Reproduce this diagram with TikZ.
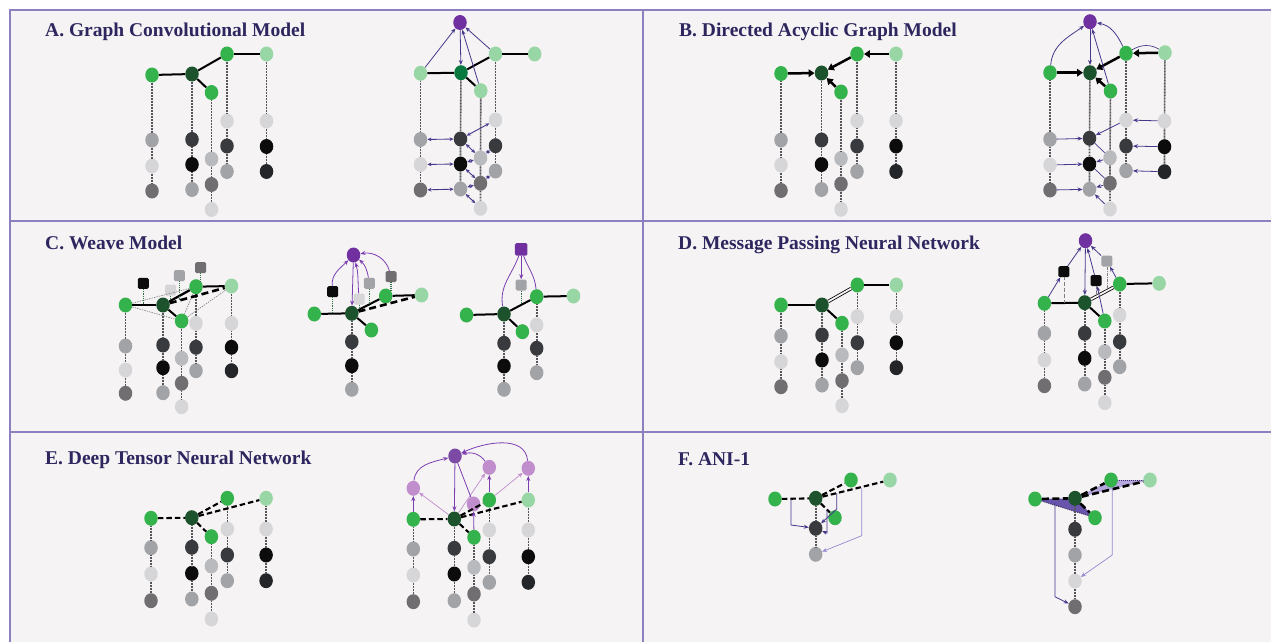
\documentclass[tikz,border=0pt]{standalone}
\usepackage{fontspec}
\setmainfont{Liberation Serif}
\usetikzlibrary{shapes.geometric,arrows.meta,calc}
\definecolor{bgc}{RGB}{245,243,244}
\definecolor{framec}{RGB}{140,128,192}
\definecolor{titlec}{RGB}{45,38,95}
\definecolor{gr}{RGB}{52,178,76}
\definecolor{dgr}{RGB}{28,82,44}
\definecolor{lgr}{RGB}{152,214,166}
\definecolor{tgr}{RGB}{8,122,64}
\definecolor{pur}{RGB}{112,48,160}
\definecolor{purE}{RGB}{124,74,164}
\definecolor{pnk}{RGB}{192,142,204}
\definecolor{arrp}{RGB}{72,56,140}
\definecolor{arrl}{RGB}{152,136,208}
\definecolor{arrc}{RGB}{125,62,178}
\definecolor{cL}{RGB}{214,214,216}
\definecolor{cLG}{RGB}{184,186,189}
\definecolor{cG}{RGB}{162,163,166}
\definecolor{cDG}{RGB}{112,110,113}
\definecolor{cD}{RGB}{56,58,61}
\definecolor{cK}{RGB}{12,12,12}
\definecolor{cVD}{RGB}{36,37,41}
\definecolor{colc}{RGB}{85,85,90}
\definecolor{sqc}{RGB}{50,110,70}
\definecolor{tridk}{RGB}{104,84,170}
\definecolor{trilt}{RGB}{182,168,222}
\tikzset{
 atom/.style={ellipse,draw=none,fill=#1,inner sep=0pt,minimum width=13.5pt,minimum height=15pt},
 sqn/.style={rectangle,rounded corners=1.5pt,draw=none,fill=#1,inner sep=0pt,minimum size=11pt},
 bond/.style={line width=2pt,draw=black},
 dbond/.style={line width=0.8pt,draw=black,double=bgc,double distance=1.8pt},
 dashbond/.style={line width=2.1pt,draw=black,dash pattern=on 5.5pt off 3pt},
 wdash/.style={line width=2.6pt,draw=black,dash pattern=on 7pt off 4pt},
 col/.style={line width=1.6pt,draw=colc,dash pattern=on 0.9pt off 0.6pt},
 thindot/.style={line width=0.6pt,draw=gray,dash pattern=on 1.5pt off 1pt},
 sqline/.style={line width=1.3pt,draw=sqc,dash pattern=on 1pt off 0.8pt},
 dashdot/.style={line width=0.5pt,draw=gray,dash pattern=on 3pt off 1.2pt on 0.6pt off 1.2pt},
 tedge/.style={line width=1pt,draw=tridk!60!black,dash pattern=on 1pt off 1pt},
 parr/.style={line width=0.8pt,draw=arrp,-{Stealth[length=5pt,width=4pt]}},
 larr/.style={line width=0.7pt,draw=arrl,-{Stealth[length=5pt,width=4pt]}},
 carr/.style={line width=0.8pt,draw=arrc,-{Stealth[length=5pt,width=4pt]}},
 parrb/.style={line width=0.9pt,draw=arrp,{Stealth[length=4pt,width=3.6pt]}-{Stealth[length=4pt,width=3.6pt]}},
 barr/.style={line width=2.5pt,draw=black,-{Triangle[length=6pt,width=7.5pt]}},
 ttl/.style={anchor=base west,text=titlec,font=\fontsize{19.5}{22}\selectfont\bfseries,inner sep=0pt},
}
\begin{document}
\begin{tikzpicture}[x=1pt,y=-1pt]
\useasboundingbox (0,0) rectangle (1271,642);
\fill[white] (0,0) rectangle (1271,642);
\fill[bgc] (10,10) rectangle (1271,642);
\draw[framec,line width=1.8pt] (10,642) -- (10,10) -- (1271,10);
\draw[framec,line width=1.8pt] (10,221) -- (1271,221);
\draw[framec,line width=1.8pt] (10,432) -- (1271,432);
\draw[framec,line width=1.8pt] (643,10) -- (643,642);

\node[ttl] (tA) at (45,37) {A. Graph Convolutional Model};
\node[ttl] (tB) at (679,37) {B. Directed Acyclic Graph Model};
\node[ttl] (tC) at (45,249) {C. Weave Model};
\node[ttl] (tD) at (678,249) {D. Message Passing Neural Network};
\node[ttl] (tE) at (45,464) {E. Deep Tensor Neural Network};
\node[ttl] (tF) at (678,465) {F. ANI-1};

% ---------- Panel A left
\foreach \n/\x/\y/\c in {a1/152/75/gr,a2/192/74/dgr,a3/227/54/gr,a4/266.5/54/lgr,a5/211.5/92.5/gr,
 a11/152/140/cG,a12/152/166/cL,a13/152/191/cDG,
 a21/192/139.5/cD,a22/192/164.5/cK,a23/192/189.5/cG,
 a51/211.5/159/cLG,a52/211.5/184.5/cDG,a53/211.5/209.5/cL,
 a31/227/121/cL,a32/227/146/cD,a33/227/171.5/cG,
 a41/266.5/121/cL,a42/266.5/146.5/cK,a43/266.5/171.5/cVD}
 \node[atom=\c] (\n) at (\x,\y) {};
\foreach \t in {a1,a2,a5,a3,a4} \draw[col] (\t)--(\t1)--(\t2)--(\t3);
\foreach \p/\q in {a1/a2,a2/a3,a2/a5,a3/a4} \draw[bond] (\p)--(\q);

% ---------- Panel A right
\node[atom=pur] (rP) at (460,22.5) {};
\foreach \n/\x/\y/\c in {r1/420.5/73.3/lgr,r2/461/72.7/tgr,r3/495.5/54/lgr,r4/534.7/54/lgr,r5/480.8/90.7/lgr,
 r11/420.5/139.5/cG,r12/420.5/164.5/cL,r13/420.5/190/cDG,
 r21/460.5/139/cD,r22/460.5/164/cK,r23/460.5/189/cG,
 r51/480.5/158/cLG,r52/480.5/183.3/cDG,r53/480.5/208.3/cL,
 r31/495.5/120/cL,r32/495.5/145.7/cD,r33/495.5/171/cG}
 \node[atom=\c] (\n) at (\x,\y) {};
\foreach \t in {r1,r2,r5,r3} \draw[col] (\t)--(\t1)--(\t2)--(\t3);
\foreach \p/\q in {r1/r2,r2/r3,r2/r5,r3/r4} \draw[bond] (\p)--(\q);
\draw[parr] (r1)--(rP);
\draw[parr] (r3)--(rP);
\draw[parr] (r5)--(rP);
\draw[parr] (rP)--(r2);
\foreach \p/\q in {r11/r21,r12/r22,r13/r23,r21/r31,r21/r51,r32/r51,r51/r22,r22/r52,r33/r52,r52/r23,r23/r53}
 \draw[parrb] (\p)--(\q);

% ---------- Panel B left
\foreach \n/\x/\y/\c in {b1/781/73.5/gr,b2/821.5/73/dgr,b3/857/54/gr,b4/896/54/lgr,b5/841/92/gr,
 b11/781/140/cG,b12/781/165/cL,b13/781/190.5/cDG,
 b21/821.5/140/cD,b22/821.5/164.5/cK,b23/821.5/189.5/cG,
 b51/841/158.5/cLG,b52/841/184/cDG,b53/841/209.3/cL,
 b31/857/120.7/cL,b32/857/146/cD,b33/857/171.5/cG,
 b41/896/120.7/cL,b42/896/146/cK,b43/896/171.5/cVD}
 \node[atom=\c] (\n) at (\x,\y) {};
\foreach \t in {b1,b2,b5,b3,b4} \draw[col] (\t)--(\t1)--(\t2)--(\t3);
\foreach \p/\q in {b1/b2,b3/b2,b5/b2,b4/b3} \draw[barr] (\p)--(\q);

% ---------- Panel B right
\node[atom=pur] (sP) at (1090,21.7) {};
\foreach \n/\x/\y/\c in {s1/1050/72.7/gr,s2/1090/72.7/dgr,s3/1126/53.3/gr,s4/1165/52.7/lgr,s5/1110.5/91/gr,
 s11/1050/139.3/cG,s12/1050/165/cL,s13/1050/190/cDG,
 s21/1089.5/138.3/cD,s22/1089.5/164/cK,s23/1089.5/189.3/cG,
 s51/1110/157.7/cLG,s52/1110/183.3/cDG,s53/1110/209/cL,
 s31/1126/120/cL,s32/1126/146/cD,s33/1126/170.7/cG,
 s41/1164.5/121/cL,s42/1164.5/146.7/cK,s43/1164.5/171.7/cVD}
 \node[atom=\c] (\n) at (\x,\y) {};
\foreach \t in {s1,s2,s5,s3,s4} \draw[col] (\t)--(\t1)--(\t2)--(\t3);
\foreach \p/\q in {s1/s2,s3/s2,s5/s2,s4/s3} \draw[barr] (\p)--(\q);
\draw[parr] (sP)--(s2);
\draw[parr] (s5)--(sP);
\draw[parr] (s1) to[out=85,in=215] (sP);
\draw[parr] (s3) to[out=115,in=-10] (sP);
\draw[line width=0.7pt,draw=arrp] (s4) to[out=150,in=30] (s3);
\foreach \p/\q in {s11/s21,s12/s22,s13/s23,s41/s31,s42/s32,s43/s33,s31/s21,s51/s22,s52/s23,s53/s23}
 \draw[parr] (\p)--(\q);
\draw[line width=0.7pt,draw=arrp] (s21)--(s51);
\draw[line width=0.7pt,draw=arrp] (s22)--(s52);

% ---------- Panel C left
\foreach \n/\x/\y/\c in {c11/125.5/346/cG,c12/125.5/370/cL,c13/125.5/393.3/cDG,
 c21/163/345/cD,c22/163/367.7/cK,c23/163/392.7/cG,
 c51/181.6/358.3/cLG,c52/181.6/383.3/cDG,c53/181.6/406.7/cL,
 c31/196/323.3/cL,c32/196/347.3/cD,c33/196/370.7/cG,
 c41/231.5/323.3/cL,c42/231.5/347.3/cK,c43/231.5/370.7/cVD}
 \node[atom=\c] (\n) at (\x,\y) {};
\foreach \n/\x/\y/\c in {c1/125.5/305/gr,c2/163/305/dgr,c3/196/286.7/gr,c4/231.5/286/lgr,c5/181.6/321/gr}
 \node[atom=\c] (\n) at (\x,\y) {};
\foreach \n/\x/\y/\c in {cqK/143.3/283.3/cK,cqL/170.7/290/cL,cqG/179.3/275.7/cG,cqD/200.7/267.7/cDG}
 \node[sqn=\c] (\n) at (\x,\y) {};
\coordinate (cbK) at (143.3,305);
\coordinate (cbL) at (170.7,300.6);
\coordinate (cbG) at (179.3,300.4);
\coordinate (cbD) at (200.7,281);
\foreach \t in {c1,c2,c5,c3,c4} \draw[col] (\t)--(\t1)--(\t2)--(\t3);
\foreach \p/\q in {c1/c3,c1/c5,c5/c3,c5/c4} \draw[thindot] (\p)--(\q);
\foreach \p/\q in {c1/c2,c2/c5,c3/c4} \draw[bond] (\p)--(\q);
\draw[bond,line width=2.3pt] (c2)--(c3);
\draw[wdash] (c2)--(c4);
\foreach \s in {K,L,G,D} \draw[sqline] (cq\s)--(cb\s);

% ---------- Panel C middle
\node[atom=pur] (mP) at (353.5,255) {};
\foreach \n/\x/\y/\c in {m1/314.3/314/gr,m2/351.8/313.3/dgr,m3/385.7/296/gr,m4/421.6/295/lgr,m5/371.4/330/gr,
 m21/351.8/341.7/cD,m22/351.8/365.7/cK,m23/351.8/389.3/cG}
 \node[atom=\c] (\n) at (\x,\y) {};
\foreach \n/\x/\y/\c in {mqK/332.7/291.7/cK,mqL/359.2/299/cL,mqG/369.4/283.3/cG,mqD/391/276.7/cDG}
 \node[sqn=\c] (\n) at (\x,\y) {};
\coordinate (mbK) at (332.7,313.6);
\coordinate (mbL) at (359.2,309.5);
\coordinate (mbG) at (369.4,308.7);
\coordinate (mbD) at (391,290);
\draw[col] (m2)--(m21)--(m22)--(m23);
\foreach \p/\q in {m1/m2,m2/m3,m2/m5,m3/m4} \draw[bond] (\p)--(\q);
\draw[wdash] (m2)--(m4);
\foreach \s in {K,L,G,D} \draw[sqline] (mq\s)--(mb\s);
\draw[carr] (mP)--(m2);
\draw[carr] (mqK) to[out=95,in=225] (mP);
\draw[carr] (mqL) to[out=95,in=-75] (mP);
\draw[carr] (mqG) to[out=100,in=-40] (mP);
\draw[carr] (mqD) to[out=105,in=10] (mP);

% ---------- Panel C right
\node[sqn=pur,minimum size=12.5pt] (nP) at (521.2,249.3) {};
\node[sqn=cG] (nqG) at (521.2,285) {};
\foreach \n/\x/\y/\c in {n1/466.5/315/gr,n2/504/314/dgr,n3/536.7/296.7/gr,n4/573.5/296/lgr,n5/522.4/331.7/gr,
 n21/504/343.3/cD,n22/504/366/cK,n23/504/389.3/cG,
 n31/536.7/325/cL,n32/536.7/348.3/cD,n33/536.7/372.7/cG}
 \node[atom=\c] (\n) at (\x,\y) {};
\coordinate (nbG) at (521.2,304.9);
\foreach \t in {n2,n3} \draw[col] (\t)--(\t1)--(\t2)--(\t3);
\foreach \p/\q in {n1/n2,n2/n3,n2/n5,n3/n4} \draw[bond] (\p)--(\q);
\draw[sqline] (nqG)--(nbG);
\draw[carr] (nP)--(nqG);
\draw[line width=0.8pt,draw=arrc] (n2) to[out=100,in=250] (nP);
\draw[line width=0.8pt,draw=arrc] (n3) to[out=95,in=-70] (nP);

% ---------- Panel D left
\foreach \n/\x/\y/\c in {d1/781/305/gr,d2/822/305/dgr,d3/857.3/285/gr,d4/896.3/285/lgr,d5/842/323.3/gr,
 d11/781/336/cG,d12/781/361.7/cL,d13/781/386.7/cDG,
 d21/822/335/cD,d22/822/360/cK,d23/822/385/cG,
 d51/842/355/cLG,d52/842/380.7/cDG,d53/842/405.7/cL,
 d31/857.3/316.7/cL,d32/857.3/342.7/cD,d33/857.3/367.7/cG,
 d41/896.3/316.7/cL,d42/896.3/342.7/cK,d43/896.3/367.7/cVD}
 \node[atom=\c] (\n) at (\x,\y) {};
\foreach \t in {d1,d2,d5,d3,d4} \draw[col] (\t)--(\t1)--(\t2)--(\t3);
\foreach \p/\q in {d1/d2,d2/d5,d3/d4} \draw[bond] (\p)--(\q);
\draw[dbond] (d2)--(d3);

% ---------- Panel D right
\node[atom=pur] (eP) at (1085.5,240.7) {};
\foreach \n/\x/\y/\c in {e1/1044.4/303.3/gr,e2/1084.7/302.7/dgr,e3/1119.7/284/gr,e4/1159.1/283.3/lgr,e5/1104.8/321/gr,
 e11/1044.4/333.3/cG,e12/1044.4/360/cL,e13/1044.4/385.7/cDG,
 e21/1084.7/333.3/cD,e22/1084.7/358.3/cK,e23/1084.7/384/cG,
 e51/1104.8/351.7/cLG,e52/1104.8/377.3/cDG,e53/1104.8/402.7/cL,
 e31/1119.7/315/cL,e32/1119.7/341.7/cD,e33/1119.7/366.7/cG}
 \node[atom=\c] (\n) at (\x,\y) {};
\foreach \n/\x/\y/\c in {eqK/1063.8/271.7/cK,eqM/1096/280.7/cK,eqG/1106.8/261/cG}
 \node[sqn=\c] (\n) at (\x,\y) {};
\coordinate (ebK) at (1063.8,303);
\coordinate (ebM) at (1096,296.6);
\coordinate (ebG) at (1106.8,290.9);
\foreach \t in {e1,e2,e5,e3} \draw[col] (\t)--(\t1)--(\t2)--(\t3);
\foreach \p/\q in {e1/e2,e2/e5,e3/e4} \draw[bond] (\p)--(\q);
\draw[dbond] (e2)--(e3);
\foreach \s in {K,M,G} \draw[dashdot] (eq\s)--(eb\s);
\foreach \p/\q in {e1/eqK,eqK/eP,eP/e2,e5/eqM,eqM/eP,e3/eqG,eqG/eP} \draw[parr] (\p)--(\q);

% ---------- Panel E left
\foreach \n/\x/\y/\c in {f1/151/518.3/gr,f2/191.8/517.7/dgr,f3/227.3/498.3/gr,f4/266.1/498.3/lgr,f5/211.4/536.7/gr,
 f11/151/547.7/cG,f12/151/574/cL,f13/151/600.7/cDG,
 f21/191.8/547.3/cD,f22/191.8/573.3/cK,f23/191.8/599/cG,
 f51/211.4/566/cLG,f52/211.4/593.3/cDG,f53/211.4/619/cL,
 f31/227.3/529/cL,f32/227.3/555/cD,f33/227.3/580.7/cG,
 f41/266.1/529/cL,f42/266.1/555/cK,f43/266.1/580.7/cVD}
 \node[atom=\c] (\n) at (\x,\y) {};
\foreach \t in {f1,f2,f5,f3,f4} \draw[col] (\t)--(\t1)--(\t2)--(\t3);
\foreach \p/\q in {f1/f2,f2/f3,f2/f4,f2/f5} \draw[dashbond] (\p)--(\q);

% ---------- Panel E right
\node[atom=purE] (gP) at (455,456) {};
\foreach \n/\x/\y/\c in {q1/413.3/488.3/pnk,q3/489.3/467.3/pnk,q4/528.3/468.3/pnk,q5/473.5/504/pnk,
 g1/413.3/519.3/gr,g2/454.3/519/dgr,g3/489.3/500/gr,g4/528.3/500/lgr,g5/474/537.3/gr,
 g11/413.3/549/cG,g12/413.3/575/cL,g13/413.3/601.7/cDG,
 g21/454.3/548.3/cD,g22/454.3/574/cK,g23/454.3/600.7/cG,
 g51/474/567.3/cLG,g52/474/594/cDG,g53/474/620/cL,
 g31/489.3/530/cL,g32/489.3/556.7/cD,g33/489.3/582.3/cG,
 g41/528.3/530/cL,g42/528.3/556.7/cK,g43/528.3/582.3/cVD}
 \node[atom=\c] (\n) at (\x,\y) {};
\foreach \t in {g1,g2,g5,g3,g4} \draw[col] (\t)--(\t1)--(\t2)--(\t3);
\foreach \p/\q in {g1/g2,g2/g3,g2/g4,g2/g5} \draw[dashbond] (\p)--(\q);
\foreach \p/\q in {g1/q1,g3/q3,g4/q4,g5/q5} \draw[carr] (\p)--(\q);
\foreach \p/\q in {g2/q1,g2/q3,g3/q4} \draw[larr,draw=pnk] (\p)--(\q);
\draw[carr] (gP)--(g2);
\draw[carr] (q1) to[out=85,in=195] (gP);
\draw[carr] (q3) to[out=125,in=15] (gP);
\draw[carr] (q4) to[out=95,in=25] (gP);
\draw[line width=0.8pt,draw=arrc] (q5)--(gP);

% ---------- Panel F left
\foreach \n/\x/\y/\c in {h1/775/499/gr,h2/815.7/498.3/dgr,h3/851/480/gr,h4/890/480/lgr,h5/835/517.7/gr,
 h21/815.7/528.3/cD,h22/815.7/554.3/cG}
 \node[atom=\c] (\n) at (\x,\y) {};
\draw[col] (h2)--(h21)--(h22);
\foreach \p/\q in {h1/h2,h2/h3,h2/h4,h2/h5} \draw[dashbond] (\p)--(\q);
\coordinate (hA0) at (790.9,499);
\coordinate (hA1) at (790.9,525);
\coordinate (hB0) at (836.7,493);
\coordinate (hB1) at (836.7,509);
\coordinate (hC0) at (827,509.7);
\coordinate (hC1) at (827,533);
\coordinate (hD0) at (861.7,487.5);
\coordinate (hD1) at (861.7,535.7);
\draw[parr] (hA0)--(hA1)--(h21);
\draw[parr] (hB0)--(hB1)--(h21);
\draw[parr] (hC0)--(hC1)--(h21);
\draw[larr] (hD0)--(hD1)--(h22);

% ---------- Panel F right
\foreach \n/\x/\y in {k1/1035/499,k2/1075/498.3,k3/1111/480,k4/1150/480,k5/1095/517.7}
 \coordinate (p\n) at (\x,\y);
\fill[tridk] (pk1)--(pk2)--(pk5)--cycle;
\fill[trilt] (pk2)--(pk3)--(pk4)--cycle;
\draw[tedge] (pk1)--(pk5);
\draw[tedge] (pk3)--(pk4);
\foreach \n/\c in {k1/gr,k2/dgr,k3/gr,k4/lgr,k5/gr} \node[atom=\c] (\n) at (p\n) {};
\foreach \n/\x/\y/\c in {k21/1075/529.3/cD,k22/1075/555/cG,k23/1075/581/cL,k24/1075/606.7/cDG}
 \node[atom=\c] (\n) at (\x,\y) {};
\draw[col] (k2)--(k21)--(k22)--(k23)--(k24);
\foreach \p/\q in {k1/k2,k2/k5,k2/k3,k2/k4} \draw[dashbond,line width=2.6pt,dash pattern=on 7pt off 3.5pt] (\p)--(\q);
\coordinate (kA0) at (1055,503);
\coordinate (kA1) at (1055,596.7);
\coordinate (kB0) at (1112.3,487);
\coordinate (kB1) at (1112.3,555);
\draw[parr] (kA0)--(kA1)--(k24);
\draw[larr] (kB0)--(kB1)--(k23);
\end{tikzpicture}
\end{document}
